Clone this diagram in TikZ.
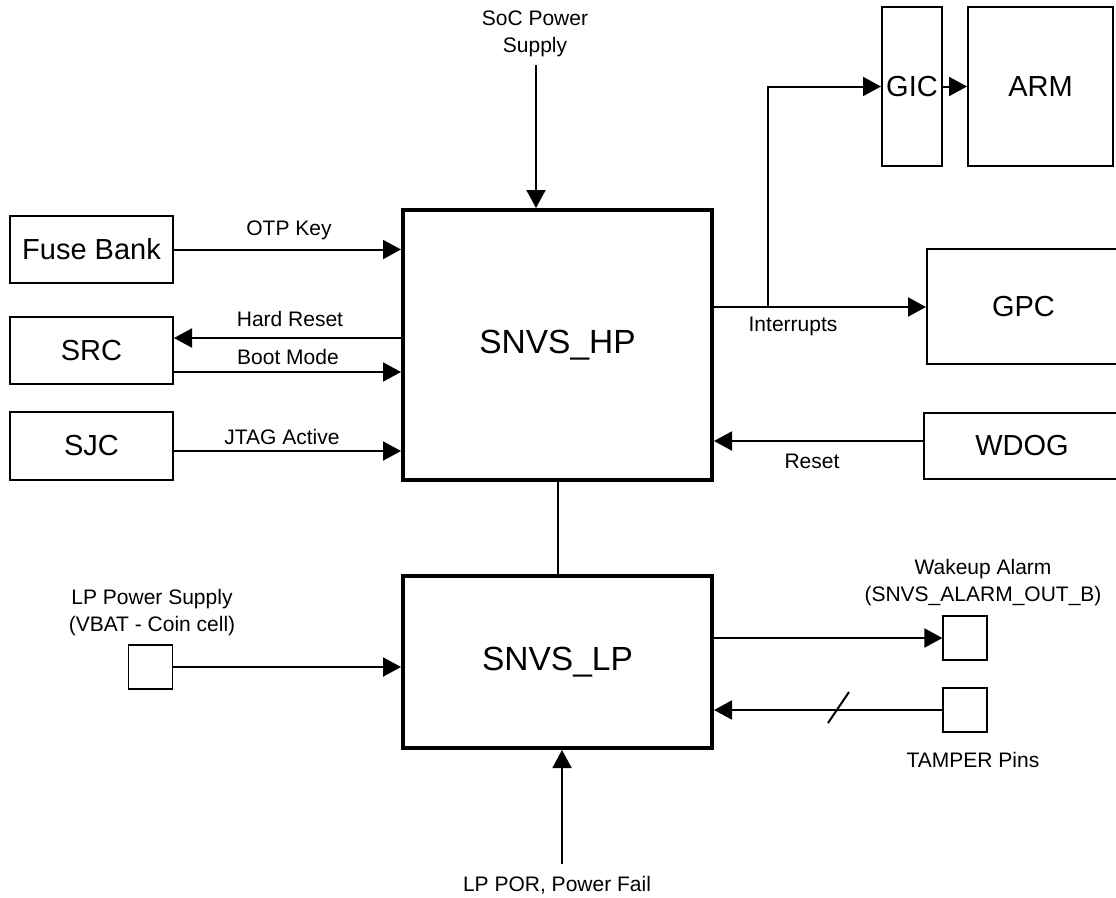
\documentclass[tikz,border=0pt]{standalone}
\usepackage{fontspec}
\setmainfont{Liberation Sans}
\usetikzlibrary{arrows.meta}
\tikzset{
  blk/.style={draw, line width=2pt, inner sep=0pt, font=\fontsize{29}{34}\selectfont},
  mainblk/.style={draw, line width=4pt, inner sep=0pt, font=\fontsize{33.5}{38}\selectfont},
  pin/.style={draw, line width=1.2pt, inner sep=0pt, minimum width=44pt, minimum height=44pt},
  lbl/.style={inner sep=0pt, align=center, font=\fontsize{21}{27}\selectfont},
  arr/.style={line width=2pt, -{Triangle[length=18pt,width=19pt]}},
  wire/.style={line width=2pt},
}
\begin{document}
\begin{tikzpicture}[x=1pt,y=-1pt]
\useasboundingbox (0,0) rectangle (1116,897);
% main blocks
\node[mainblk, minimum width=309pt, minimum height=270pt] (hp) at (557.5,345) {SNVS\_HP};
\node[mainblk, minimum width=309pt, minimum height=172pt] (lp) at (557.5,662) {SNVS\_LP};
% left blocks
\node[blk, minimum width=163pt, minimum height=67pt] (fuse) at (91.5,249.5) {Fuse Bank};
\node[blk, minimum width=163pt, minimum height=67pt] (src) at (91.5,350.5) {SRC};
\node[blk, minimum width=163pt, minimum height=68pt] (sjc) at (91.5,446) {SJC};
% right blocks
\node[blk, minimum width=60pt, minimum height=159pt] (gic) at (912,86.5) {GIC};
\node[blk, minimum width=145pt, minimum height=159pt] (arm) at (1040.5,86.5) {ARM};
\node[blk, minimum width=193pt, minimum height=115pt] (gpc) at (1023.5,306.5) {GPC};
\node[blk, minimum width=196pt, minimum height=66pt] (wdog) at (1022,446) {WDOG};
% pins
\node[pin] (lpps) at (150.5,667) {};
\node[pin] (wake) at (965,638) {};
\node[pin] (tamp) at (965,710) {};
% free ends
\coordinate (soc) at (536,65);
\coordinate (por) at (562,864);
\coordinate (br) at (768,307);
% connectors
\draw[arr] (soc) -- (soc |- hp.north);
\draw[arr] (por) -- (por |- lp.south);
\draw[wire] (hp.south) -- (lp.north);
\draw[arr] (fuse.east) -- (fuse.east -| hp.west);
\draw[arr] (hp.west |- 0,338) -- (src.east |- 0,338);
\draw[arr] (src.east |- 0,372) -- (hp.west |- 0,372);
\draw[arr] (sjc.east |- 0,451) -- (hp.west |- 0,451);
\draw[arr] (hp.east |- br) -- (br -| gpc.west);
\draw[arr] (br) |- (gic.west);
\draw[arr] (gic.east) -- (arm.west);
\draw[arr] (wdog.west |- 0,441) -- (hp.east |- 0,441);
\draw[arr] (lpps.east) -- (lpps.east -| lp.west);
\draw[arr] (lp.east |- wake) -- (wake.west);
\draw[arr] (tamp.west) -- (tamp.west -| lp.east);
\draw[wire] (828,723) -- (849,692);
% labels
\node[lbl] (lsoc) at (535,34) {SoC Power\\Supply};
\node[lbl] (lotp) at (289,230) {OTP Key};
\node[lbl] (lhr) at (290,319) {Hard Reset};
\node[lbl] (lbm) at (288,357) {Boot Mode};
\node[lbl] (ljtag) at (282,437) {JTAG Active};
\node[lbl] (lint) at (793,326) {Interrupts};
\node[lbl] (lrst) at (812,461) {Reset};
\node[lbl] (llpps) at (152,613) {LP Power Supply\\(VBAT - Coin cell)};
\node[lbl] (lwake) at (983,583) {Wakeup Alarm\\(SNVS\_ALARM\_OUT\_B)};
\node[lbl] (ltamp) at (973,760) {TAMPER Pins};
\node[lbl] (lpor) at (557,885) {LP POR, Power Fail};
\end{tikzpicture}
\end{document}
